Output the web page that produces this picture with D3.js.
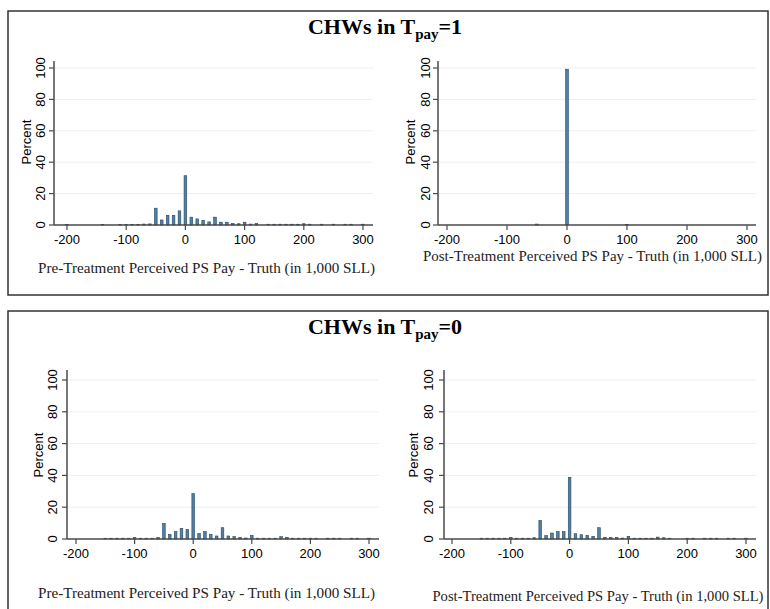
<!DOCTYPE html>
<html>
<head>
<meta charset="utf-8">
<script src="https://cdn.jsdelivr.net/npm/d3@7"></script>
<style>
  body { margin: 0; background: #fff; }
  svg { display: block; }
</style>
</head>
<body>
<div id="chart"></div>
<script>
const W = 770, H = 609;

// histogram data: bin centre (1,000 SLL) and percent
const preT1Bins = [-200,-140,-110,-100,-90,-80,-70,-60,-50,-40,-30,-20,-10,0,10,20,30,40,50,60,70,80,90,100,110,120,140,150,160,170,180,190,200,210,230,250,270,280,300];
const preT1Pct  = [0.4,0.4,0.4,0.4,0.4,0.4,0.6,0.7,10.7,3.2,6.2,6.2,9,31.4,5,3.9,3,2,5,1.8,1.8,1,0.8,1.8,0.6,1,0.5,0.5,0.5,0.5,0.5,0.5,0.8,0.5,0.5,0.5,0.5,0.5,0.5];

const postT1Bins = [-50,0,100];
const postT1Pct  = [0.6,99.2,0.3];

const preT0Bins = [-150,-140,-130,-120,-110,-100,-90,-80,-70,-60,-50,-40,-30,-20,-10,0,10,20,30,40,50,60,70,80,90,100,110,120,130,140,150,160,170,180,190,200,210,230,240,250,270,280,300];
const preT0Pct  = [0.5,0.5,0.5,0.5,0.5,1,0.5,0.5,0.5,1,9.8,2.9,4.6,6.7,6,28.5,3.5,4.6,2.9,1.9,7.1,1.9,1.5,1,0.6,2.3,0.5,0.5,0.5,0.5,1.5,1,0.5,0.5,0.5,0.5,0.5,0.5,0.5,0.5,0.5,0.5,0.5];

const postT0Bins = [-150,-140,-130,-120,-110,-100,-90,-80,-70,-60,-50,-40,-30,-20,-10,0,10,20,30,40,50,60,70,80,90,100,110,120,130,140,150,160,170,200,210,230,240,250,270,280,300];
const postT0Pct  = [0.5,0.5,0.5,0.5,0.5,1,0.5,0.5,0.5,0.8,11.7,2.1,3.75,4.6,4.6,38.8,3.3,2.7,2.3,1.7,7.1,1,1,1,0.6,1.7,0.5,0.5,0.5,0.5,1.2,0.8,0.5,0.5,0.5,0.5,0.5,0.5,0.5,0.5,0.5];

const xTicks = [-200,-100,0,100,200,300];
const yTicks = [0,20,40,60,80,100];
const preLabel  = "Pre-Treatment Perceived PS Pay - Truth (in 1,000 SLL)";
const postLabel = "Post-Treatment Perceived PS Pay - Truth (in 1,000 SLL)";
const groupTitles = ["1","0"];
const barWidth = 4.5; // in x units

const barFill = "#4f80a8", barStroke = "#26465f";
const axisCol = "#4a4a4a", gridCol = "#e9f0f3";

const svg = d3.select("#chart").append("svg")
  .attr("width", W).attr("height", H);

// outer boxes
svg.append("rect").attr("x", 8).attr("y", 11).attr("width", 760).attr("height", 284)
  .attr("fill", "none").attr("stroke", "#333").attr("stroke-width", 1.5);
svg.append("path").attr("d", "M8,620 L8,311 L768,311 L768,620")
  .attr("fill", "none").attr("stroke", "#333").attr("stroke-width", 1.5);

// group titles
[34, 334].forEach(function(ty, i) {
  const t = svg.append("text")
    .attr("x", 385).attr("y", ty)
    .attr("text-anchor", "middle")
    .style("font-family", "'Liberation Serif', serif")
    .style("font-weight", "bold")
    .style("font-size", "22px");
  t.append("tspan").text("CHWs in T");
  t.append("tspan").attr("dy", 5).style("font-size", "15px").text("pay");
  t.append("tspan").attr("dy", -5).text("=" + groupTitles[i]);
});

const panels = [
  {bins: preT1Bins, pct: preT1Pct, label: preLabel,
   yAxisX: 54, xr: [67, 363], xEnd: 373, y0: 225, y100: 68, yTop: 61,
   tickX: 45, pctX: 31, pctY: 142, xLabY: 244, labX: 206.5, labY: 273, labLen: 337},
  {bins: postT1Bins, pct: postT1Pct, label: postLabel,
   yAxisX: 438, xr: [447, 747], xEnd: 756, y0: 225, y100: 68, yTop: 61,
   tickX: 430, pctX: 415, pctY: 142, xLabY: 244, labX: 592.5, labY: 261, labLen: 339},
  {bins: preT0Bins, pct: preT0Pct, label: preLabel,
   yAxisX: 67, xr: [76, 369], xEnd: 379, y0: 539, y100: 380, yTop: 370,
   tickX: 57, pctX: 43, pctY: 455, xLabY: 558, labX: 206.5, labY: 598, labLen: 337},
  {bins: postT0Bins, pct: postT0Pct, label: postLabel,
   yAxisX: 444, xr: [452, 746], xEnd: 756, y0: 539, y100: 380, yTop: 370,
   tickX: 433, pctX: 418, pctY: 455, xLabY: 558, labX: 598, labY: 601, labLen: 331}
];

panels.forEach(function(p) {
  const x = d3.scaleLinear().domain([-200, 300]).range(p.xr);
  const y = d3.scaleLinear().domain([0, 100]).range([p.y0, p.y100]);
  const g = svg.append("g");

  // gridlines
  g.selectAll(".grid").data(yTicks.filter(d => d > 0)).enter()
    .append("line")
    .attr("x1", p.yAxisX).attr("x2", p.xEnd)
    .attr("y1", d => y(d)).attr("y2", d => y(d))
    .attr("stroke", gridCol).attr("stroke-width", 1);

  // bars
  const data = p.bins.map((b, i) => ({bin: b, pct: p.pct[i]}));
  const bw = x(barWidth) - x(0);
  g.selectAll(".bar").data(data).enter()
    .append("rect")
    .attr("x", d => x(d.bin) - bw / 2)
    .attr("y", d => y(d.pct))
    .attr("width", bw)
    .attr("height", d => y(0) - y(d.pct))
    .attr("fill", barFill)
    .attr("stroke", barStroke)
    .attr("stroke-width", 0.6);

  // x axis
  g.append("line")
    .attr("x1", p.yAxisX).attr("x2", p.xEnd)
    .attr("y1", p.y0).attr("y2", p.y0)
    .attr("stroke", axisCol).attr("stroke-width", 1.5);
  g.selectAll(".xt").data(xTicks).enter()
    .append("line")
    .attr("x1", d => x(d)).attr("x2", d => x(d))
    .attr("y1", p.y0).attr("y2", p.y0 + 5)
    .attr("stroke", axisCol).attr("stroke-width", 1.2);
  g.selectAll(".xl").data(xTicks).enter()
    .append("text")
    .attr("x", d => x(d)).attr("y", p.xLabY)
    .attr("text-anchor", "middle")
    .style("font-family", "'Liberation Sans', Arial, sans-serif")
    .style("font-size", "13px")
    .text(d => d);

  // y axis
  g.append("line")
    .attr("x1", p.yAxisX).attr("x2", p.yAxisX)
    .attr("y1", p.yTop).attr("y2", p.y0)
    .attr("stroke", axisCol).attr("stroke-width", 1.5);
  g.selectAll(".yt").data(yTicks).enter()
    .append("line")
    .attr("x1", p.yAxisX - 5).attr("x2", p.yAxisX)
    .attr("y1", d => y(d)).attr("y2", d => y(d))
    .attr("stroke", axisCol).attr("stroke-width", 1.2);
  g.selectAll(".yl").data(yTicks).enter()
    .append("text")
    .attr("transform", d => "translate(" + p.tickX + "," + y(d) + ") rotate(-90)")
    .attr("text-anchor", "middle")
    .style("font-family", "'Liberation Sans', Arial, sans-serif")
    .style("font-size", "13px")
    .text(d => d);

  g.append("text")
    .attr("transform", "translate(" + p.pctX + "," + p.pctY + ") rotate(-90)")
    .attr("text-anchor", "middle")
    .style("font-family", "'Liberation Sans', Arial, sans-serif")
    .style("font-size", "13px")
    .text("Percent");

  g.append("text")
    .attr("x", p.labX - p.labLen / 2).attr("y", p.labY)
    .attr("textLength", p.labLen)
    .attr("lengthAdjust", "spacingAndGlyphs")
    .style("font-family", "'Liberation Serif', serif")
    .style("font-size", "14px")
    .style("fill", "#222")
    .text(p.label);
});
</script>
</body>
</html>
